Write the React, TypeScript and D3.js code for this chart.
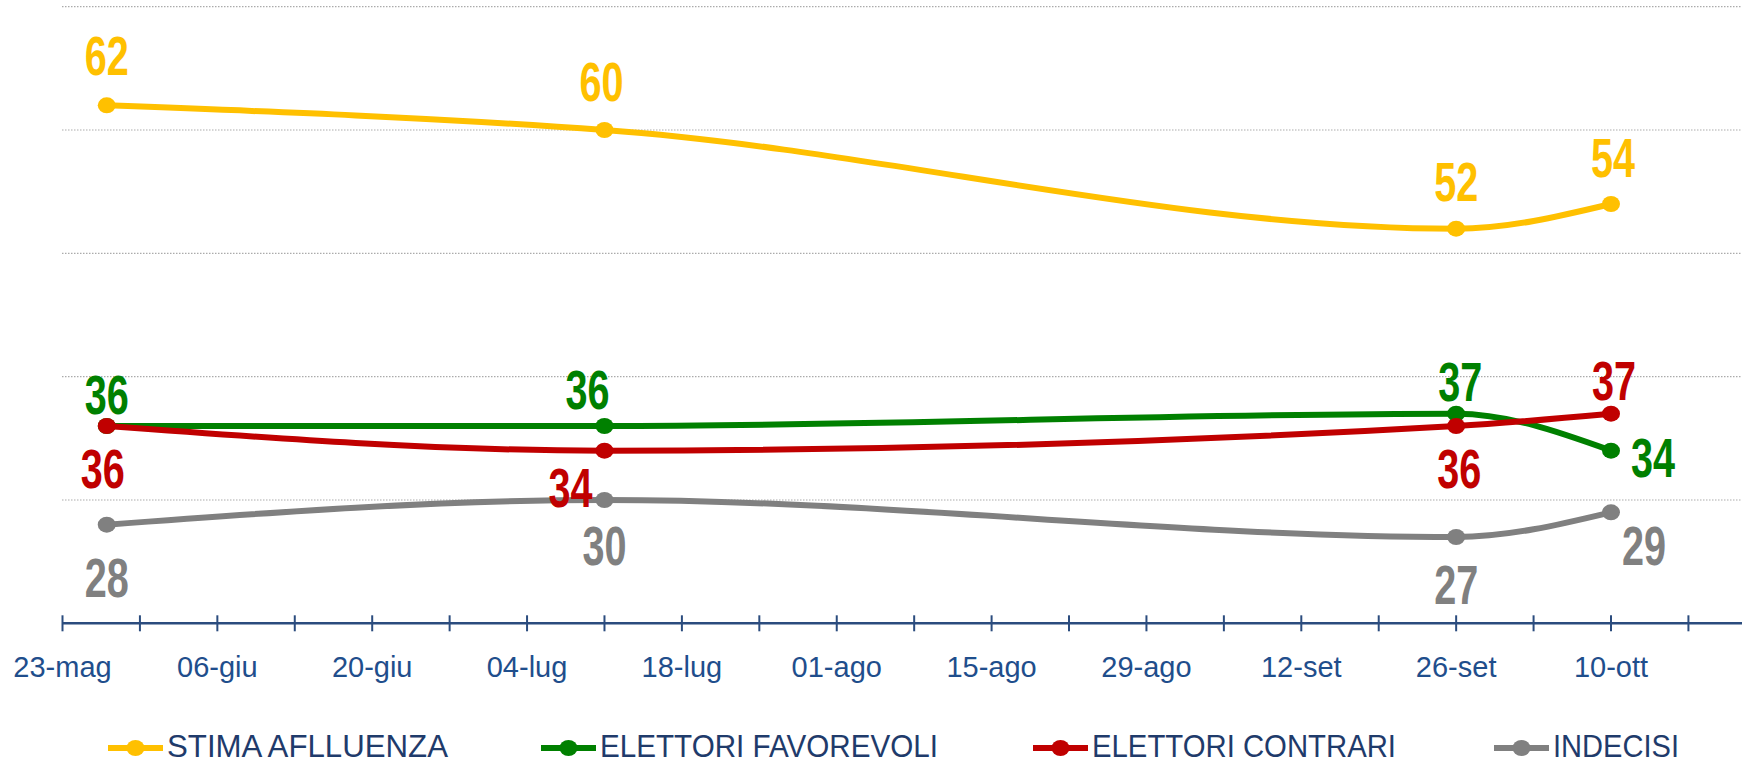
import React from 'react';
import * as d3 from 'd3';

// survey dates (2016)
const dates = ['2016-05-27', '2016-07-11', '2016-09-26', '2016-10-10'];

const affluenza = [62, 60, 52, 54];
const favorevoli = [36, 36, 37, 34];
const contrari = [36, 34, 36, 37];
const indecisi = [28, 30, 27, 29];

const seriesNames = ['STIMA AFLLUENZA', 'ELETTORI FAVOREVOLI', 'ELETTORI CONTRARI', 'INDECISI'];
const seriesColors = ['#FFC000', '#008000', '#C00000', '#808080'];

const monthNames = ['gen', 'feb', 'mar', 'apr', 'mag', 'giu', 'lug', 'ago', 'set', 'ott', 'nov', 'dic'];
const yGrid = [30, 40, 50, 60, 70];

// label placement relative to each point [dx, dy]
const labelOffsets = [
  [[0, -50], [-3, -49], [0, -48], [2, -47]],
  [[0, -32], [-17, -37], [4, -33], [42, 6]],
  [[-4, 42], [-34, 36], [3, 42], [3, -34]],
  [[0, 52], [0, 45], [0, 47], [33, 33]],
];

const legendX = [108, 541, 1033, 1494];
const legendW = [281, 338, 304, 126];

const W = 1742;
const H = 765;

export default function App() {
  const parse = d3.timeParse('%Y-%m-%d');
  const xDates = dates.map(d => parse(d) as Date);
  const values = [affluenza, favorevoli, contrari, indecisi];

  const start = parse('2016-05-23') as Date;
  const lastLabel = parse('2016-10-10') as Date;

  const x = d3.scaleTime().domain([start, lastLabel]).range([62.5, 1611]);
  const y = d3.scaleLinear().domain([20, 70]).range([623.3, 6.7]);

  const ticks = d3.timeMonday.range(start, parse('2016-10-25') as Date);
  const fmt = (d: Date) => d3.timeFormat('%d')(d) + '-' + monthNames[d.getMonth()];

  const line = d3.line<number>()
    .x((_, i) => x(xDates[i]))
    .y(v => y(v))
    .curve(d3.curveMonotoneX);

  const axisY = y(20);

  return (
    <svg width={W} height={H} style={{ position: 'absolute', left: 0, top: 0, background: '#fff' }}
      fontFamily="'Liberation Sans', Arial, sans-serif">
      {yGrid.map(v => (
        <line key={v} x1={62} x2={W} y1={y(v)} y2={y(v)} stroke="#ABABAB" strokeWidth={1.2} strokeDasharray="1.5 1.5" />
      ))}

      <line x1={62} x2={W} y1={axisY} y2={axisY} stroke="#2B4C7E" strokeWidth={2.5} />
      {ticks.map((t, i) => (
        <g key={i}>
          <line x1={x(t)} x2={x(t)} y1={axisY - 8} y2={axisY + 8} stroke="#2B4C7E" strokeWidth={2} />
          {i % 2 === 0 && t <= lastLabel && (
            <text x={x(t)} y={677} textAnchor="middle" fontSize={29} fill="#1F4E8C">{fmt(t)}</text>
          )}
        </g>
      ))}

      {values.map((vals, s) => (
        <g key={s}>
          <path d={line(vals) || ''} fill="none" stroke={seriesColors[s]} strokeWidth={6} strokeLinecap="round" />
          {vals.map((v, i) => (
            <ellipse key={i} cx={x(xDates[i])} cy={y(v)} rx={9} ry={8} fill={seriesColors[s]} />
          ))}
        </g>
      ))}

      {values.map((vals, s) => vals.map((v, i) => {
        const [dx, dy] = labelOffsets[s][i];
        const cx = x(xDates[i]) + dx;
        const cy = y(v) + dy + 20;
        return (
          <text key={`${s}-${i}`} transform={`translate(${cx},${cy}) scale(0.72,1)`} textAnchor="middle"
            fontSize={55} fontWeight="bold" fill={seriesColors[s]}>{v}</text>
        );
      }))}

      {seriesNames.map((name, s) => (
        <g key={name}>
          <line x1={legendX[s]} x2={legendX[s] + 55} y1={748} y2={748} stroke={seriesColors[s]} strokeWidth={6} />
          <ellipse cx={legendX[s] + 27.5} cy={748} rx={9} ry={8} fill={seriesColors[s]} />
          <text x={legendX[s] + 59} y={757} fontSize={32} fill="#1F3B6B"
            textLength={legendW[s]} lengthAdjust="spacingAndGlyphs">{name}</text>
        </g>
      ))}
    </svg>
  );
}
